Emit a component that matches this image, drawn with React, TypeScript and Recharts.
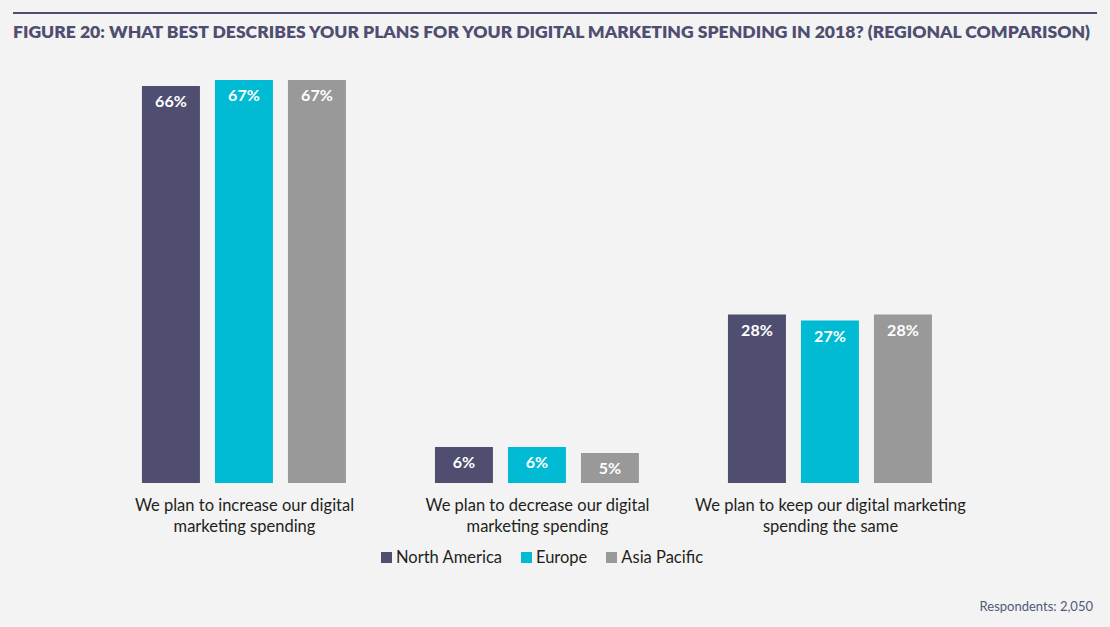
import { BarChart, Bar, XAxis, YAxis, LabelList } from 'recharts';

const categoryLines = [
  ['We plan to increase our digital', 'marketing spending'],
  ['We plan to decrease our digital', 'marketing spending'],
  ['We plan to keep our digital marketing', 'spending the same'],
];
const categories = categoryLines.map(l => l.join(' '));
const northAmerica = [66, 6, 28];
const europe = [67, 6, 27];
const asiaPacific = [67, 5, 28];

const seriesNames = ['North America', 'Europe', 'Asia Pacific'];
const COLORS = ['#4f4e71', '#00bbd3', '#999999'];

const data = categories.map((c, i) => ({
  category: c,
  na: northAmerica[i],
  eu: europe[i],
  ap: asiaPacific[i],
}));

const FONT = 'Lato, "Open Sans", sans-serif';

const CategoryTick = (props: any) => {
  const { x, y, index } = props;
  const lines = categoryLines[index] || [];
  return (
    <g transform={`translate(${x},${y})`}>
      {lines.map((ln, i) => (
        <text key={i} x={0} y={20 + i * 21} textAnchor="middle" fontSize={16.5} fill="#231f20" fontFamily={FONT}>
          {ln}
        </text>
      ))}
    </g>
  );
};

const pct = (v: unknown) => `${v}%`;

export default function App() {
  return (
    <div style={{ position: 'fixed', left: 0, top: 0, width: 1110, height: 627, background: '#f3f3f3', fontFamily: FONT }}>
      <svg width={1110} height={627} style={{ position: 'absolute', left: 0, top: 0 }}>
        <rect x={13} y={12} width={1084} height={2} fill="#4f4e71" />
        <text x={13} y={38} fontSize={17} fontWeight={800} fill="#4f4e71" textLength={1077} lengthAdjust="spacingAndGlyphs" fontFamily={FONT}>
          FIGURE 20: WHAT BEST DESCRIBES YOUR PLANS FOR YOUR DIGITAL MARKETING SPENDING IN 2018? (REGIONAL COMPARISON)
        </text>
      </svg>
      <div style={{ position: 'absolute', left: 0, top: 0 }}>
        <BarChart width={1110} height={627} data={data} margin={{ top: 80, right: 133, bottom: 84, left: 98 }} barGap={15} barCategoryGap="15%">
          <XAxis dataKey="category" axisLine={false} tickLine={false} height={60} tick={<CategoryTick />} interval={0} />
          <YAxis hide domain={[0, 67]} />
          {(['na', 'eu', 'ap'] as const).map((k, i) => (
            <Bar key={k} dataKey={k} name={seriesNames[i]} fill={COLORS[i]} isAnimationActive={false}>
              <LabelList dataKey={k} position="insideTop" offset={10} formatter={pct} style={{ fill: '#ffffff', fontSize: 16, fontWeight: 700, fontFamily: FONT }} />
            </Bar>
          ))}
        </BarChart>
      </div>
      <div style={{ position: 'absolute', top: 547, left: 381, display: 'flex' }}>
        {seriesNames.map((n, i) => (
          <div key={n} style={{ display: 'flex', alignItems: 'center', fontSize: 16.5, color: '#231f20', marginRight: 19 }}>
            <span style={{ width: 11, height: 11, background: COLORS[i], display: 'inline-block', marginRight: 4 }} />
            {n}
          </div>
        ))}
      </div>
      <div style={{ position: 'absolute', right: 17, top: 598, fontSize: 13, color: '#4f5a78', whiteSpace: 'nowrap' }}>
        Respondents: 2,050
      </div>
    </div>
  );
}
